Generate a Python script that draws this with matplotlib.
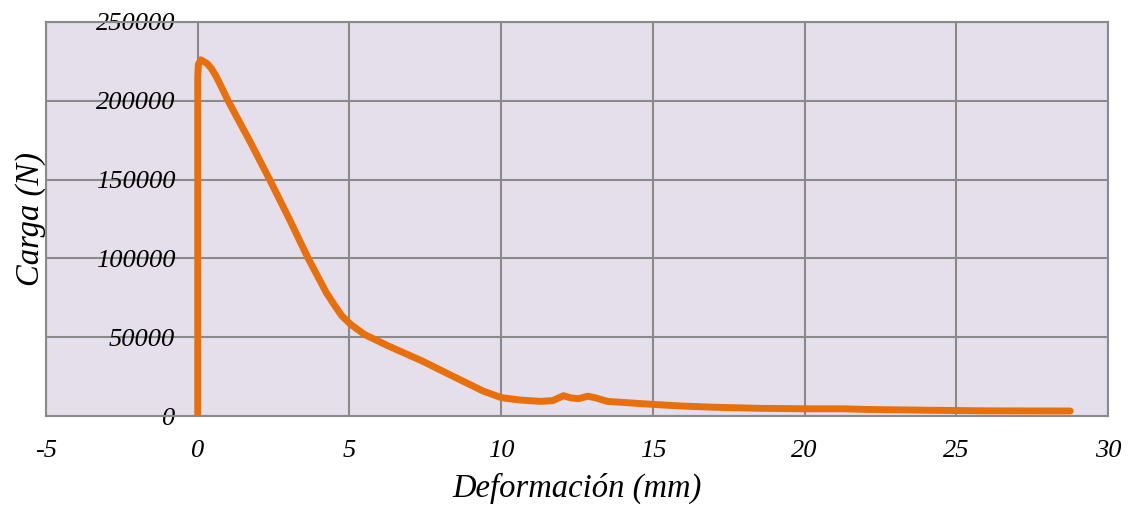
import matplotlib.pyplot as plt

# Carga vs deformacion
deformacion = [0.0, 0.0, 0.02, 0.1, 0.3, 0.45, 0.62, 0.8, 1.0, 1.7, 2.37, 3.03,
               3.64, 4.24, 4.5, 4.75, 5.05, 5.5, 6.3, 7.4, 8.5, 9.4, 10.0, 10.6,
               11.3, 11.7, 12.05, 12.3, 12.55, 12.85, 13.1, 13.5, 14.2, 15.0,
               15.9, 17.0, 18.5, 20.0, 21.3, 22.0, 24.0, 26.0, 28.75]
carga = [0, 215000, 223000, 226000, 223800, 220500, 215000, 208000, 200000,
         175000, 150000, 124500, 100000, 78200, 70500, 63500, 58000, 51700,
         44300, 34900, 24400, 15900, 11700, 10200, 9300, 9800, 12900, 11500,
         11000, 12600, 11600, 9300, 8400, 7400, 6400, 5600, 4900, 4600, 4600,
         4200, 3700, 3300, 3200]

xticks = [-5, 0, 5, 10, 15, 20, 25, 30]
yticks = [0, 50000, 100000, 150000, 200000, 250000]

plt.rcParams['font.family'] = ['Liberation Serif', 'DejaVu Serif']
plt.rcParams['font.style'] = 'italic'

fig = plt.figure(figsize=(11.36, 5.08), dpi=100)
ax = fig.add_axes([0.0405, 0.181, 0.935, 0.7757])
ax.set_facecolor('#e5dfeb')

ax.plot(deformacion, carga, color='#e8700c', linewidth=5,
        solid_capstyle='round', solid_joinstyle='round', zorder=3)

ax.set_xlim(-5, 30)
ax.set_ylim(0, 250000)
ax.set_xticks(xticks)
ax.set_xticklabels([str(t) for t in xticks])
ax.set_yticks(yticks)
ax.set_yticklabels([str(t) for t in yticks])

ax.grid(True, color='#8a8a8a', linewidth=1.5)
ax.set_axisbelow(True)
for s in ax.spines.values():
    s.set_color('#8a8a8a')
    s.set_linewidth(1.5)

ax.tick_params(axis='both', length=0, labelsize=19)
ax.tick_params(axis='x', pad=17)
ax.tick_params(axis='y', pad=-93)

ax.set_xlabel('Deformación (mm)', fontsize=23.5, labelpad=8)
ax.set_ylabel('Carga (N)', fontsize=23.5, labelpad=0)

fig.savefig('out.png', dpi=100)
